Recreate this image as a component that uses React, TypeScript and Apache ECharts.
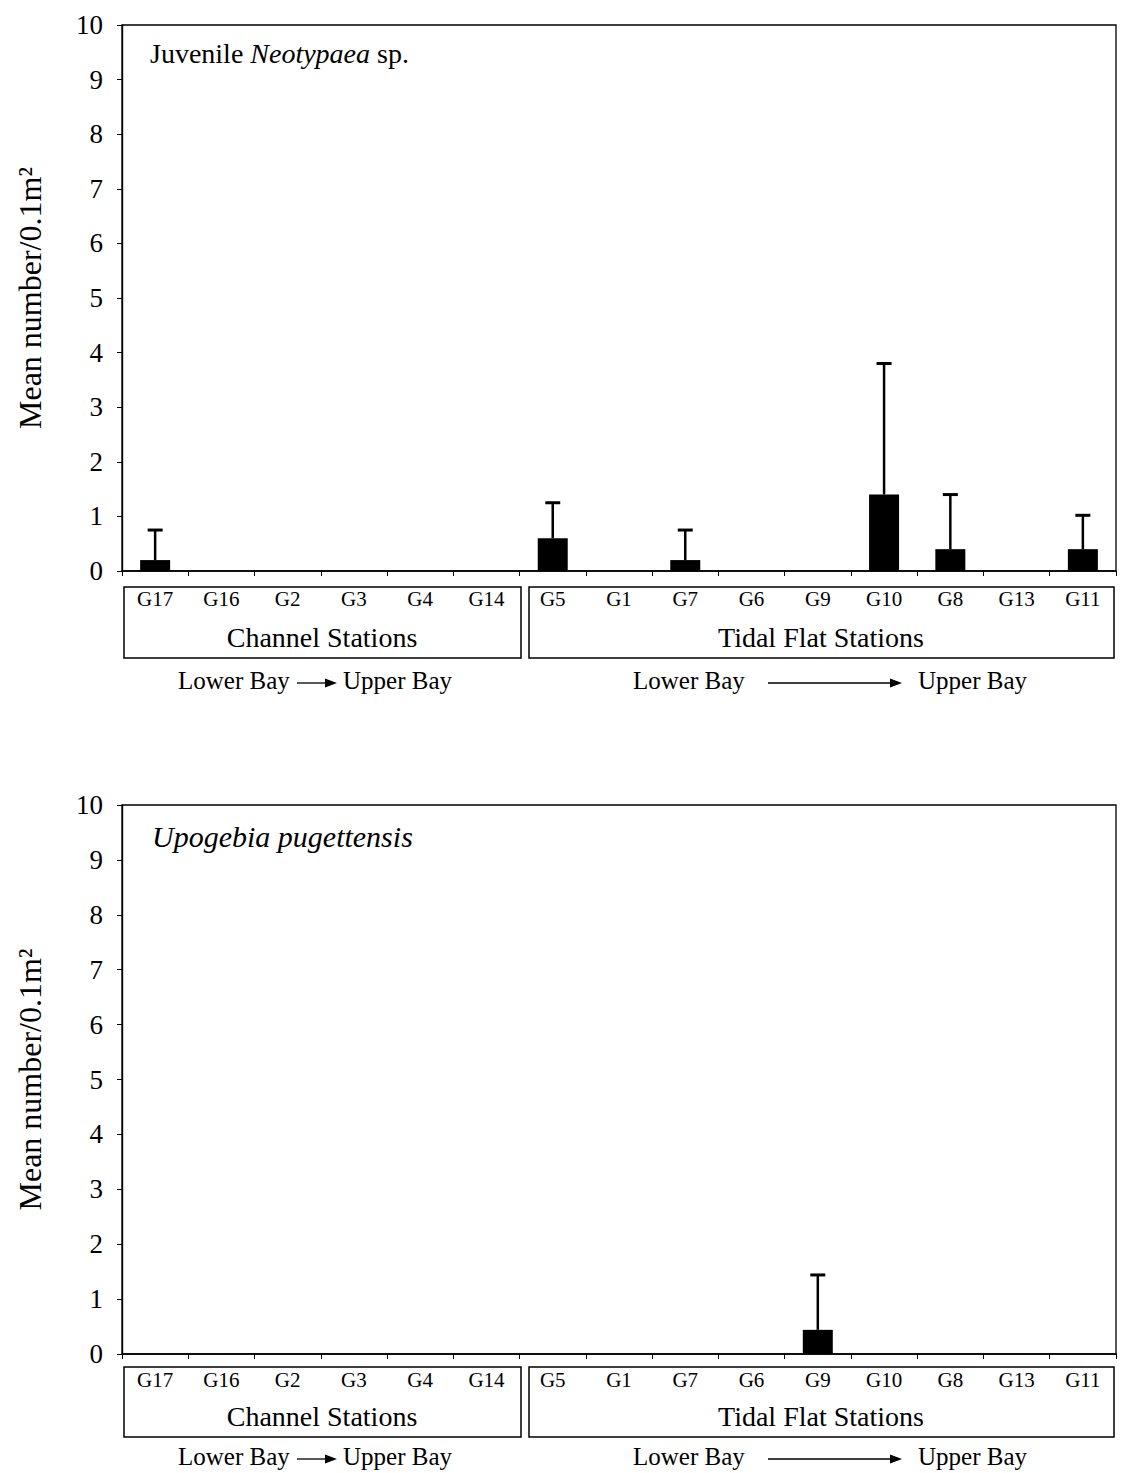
import React, { useEffect, useRef } from "react";
import * as echarts from "echarts";

const categories = ["G17", "G16", "G2", "G3", "G4", "G14", "G5", "G1", "G7", "G6", "G9", "G10", "G8", "G13", "G11"];
const neotypaeaMean = [0.2, 0, 0, 0, 0, 0, 0.6, 0, 0.2, 0, 0, 1.4, 0.4, 0, 0.4];
const neotypaeaSD = [0.55, 0, 0, 0, 0, 0, 0.65, 0, 0.55, 0, 0, 2.4, 1.0, 0, 0.62];
const upogebiaMean = [0, 0, 0, 0, 0, 0, 0, 0, 0, 0, 0.44, 0, 0, 0, 0];
const upogebiaSD = [0, 0, 0, 0, 0, 0, 0, 0, 0, 0, 1.0, 0, 0, 0, 0];
const yMin = 0;
const yMax = 10;
const yInterval = 1;
const yTitle = "Mean number/0.1m\u00B2";
const groupLabels = ["Channel Stations", "Tidal Flat Stations"];
const dirLower = "Lower Bay";
const dirUpper = "Upper Bay";

const FONT = "'Liberation Serif', 'Times New Roman', serif";

export default function App() {
  const ref = useRef<HTMLDivElement>(null);
  useEffect(() => {
    document.body.style.margin = "0";
    if (!ref.current) return;
    const chart = echarts.init(ref.current, null, { renderer: "svg" });

    const panels = [
      { top: 25, bottom: 571, mean: neotypaeaMean, sd: neotypaeaSD },
      { top: 805, bottom: 1354, mean: upogebiaMean, sd: upogebiaSD },
    ];
    const gridLeft = 122;
    const gridRight = 1116;

    const grids = panels.map((p) => ({
      left: gridLeft,
      width: gridRight - gridLeft,
      top: p.top,
      height: p.bottom - p.top,
      show: true,
      borderColor: "#000",
      borderWidth: 1.3,
      backgroundColor: "transparent",
    }));

    const xAxes = panels.map((_, i) => ({
      type: "category",
      gridIndex: i,
      data: categories,
      axisLine: { lineStyle: { color: "#000", width: 1.6 } },
      axisTick: { show: true, length: 5, lineStyle: { color: "#000", width: 1 } },
      axisLabel: { interval: 0, margin: i === 0 ? 17 : 15, color: "#000", fontFamily: FONT, fontSize: 21 },
    }));

    const yAxes = panels.map((_, i) => ({
      type: "value",
      gridIndex: i,
      min: yMin,
      max: yMax,
      interval: yInterval,
      name: yTitle,
      nameLocation: "middle",
      nameRotate: 90,
      nameGap: 76,
      nameTextStyle: { color: "#000", fontFamily: FONT, fontSize: 32 },
      axisLine: { show: true, lineStyle: { color: "#000", width: 1.4 } },
      axisTick: { show: true, length: 5, lineStyle: { color: "#000", width: 1 } },
      axisLabel: { margin: 19, color: "#000", fontFamily: FONT, fontSize: 27 },
      splitLine: { show: false },
    }));

    const series: any[] = [];
    panels.forEach((p, i) => {
      series.push({
        type: "bar",
        xAxisIndex: i,
        yAxisIndex: i,
        data: p.mean,
        barWidth: 30,
        itemStyle: { color: "#000" },
        z: 3,
      });
      series.push({
        type: "custom",
        xAxisIndex: i,
        yAxisIndex: i,
        data: p.mean.map((m, k) => [k, m, m + p.sd[k]]),
        z: 4,
        renderItem: (params: any, api: any) => {
          const idx = api.value(0);
          const lo = api.value(1);
          const hi = api.value(2);
          if (hi <= lo) return null;
          const a = api.coord([idx, lo]);
          const b = api.coord([idx, hi]);
          const half = 7.5;
          return {
            type: "group",
            children: [
              { type: "line", shape: { x1: a[0], y1: a[1], x2: b[0], y2: b[1] }, style: { stroke: "#000", lineWidth: 2.5 } },
              { type: "line", shape: { x1: b[0] - half, y1: b[1], x2: b[0] + half, y2: b[1] }, style: { stroke: "#000", lineWidth: 3 } },
            ],
          };
        },
      });
    });

    const graphic: any[] = [];
    const layouts = [
      { boxTop: 587, boxBottom: 658, groupY: 637, dirY: 680 },
      { boxTop: 1367, boxBottom: 1437, groupY: 1416, dirY: 1456 },
    ];
    const txt = (x: number, y: number, text: string, size: number, align = "center") => ({
      type: "text",
      x,
      y,
      style: { text, fontFamily: FONT, fontSize: size, fill: "#000", align, verticalAlign: "middle", textAlign: align, textVerticalAlign: "middle" },
    });
    const arrow = (x1: number, x2: number, y: number) => [
      { type: "line", shape: { x1, y1: y, x2: x2 - 10, y2: y }, style: { stroke: "#000", lineWidth: 1.3 } },
      { type: "polygon", shape: { points: [[x2 - 12, y - 4.5], [x2, y], [x2 - 12, y + 4.5]] }, style: { fill: "#000" } },
    ];
    layouts.forEach((L) => {
      graphic.push({ type: "rect", shape: { x: 124, y: L.boxTop, width: 521 - 124, height: L.boxBottom - L.boxTop }, style: { fill: "none", stroke: "#000", lineWidth: 1.5 } });
      graphic.push({ type: "rect", shape: { x: 529, y: L.boxTop, width: 1114 - 529, height: L.boxBottom - L.boxTop }, style: { fill: "none", stroke: "#000", lineWidth: 1.5 } });
      graphic.push(txt(322, L.groupY, groupLabels[0], 28));
      graphic.push(txt(821, L.groupY, groupLabels[1], 28));
      graphic.push(txt(178, L.dirY, dirLower, 25, "left"));
      graphic.push(...arrow(297, 337, L.dirY + 3));
      graphic.push(txt(343, L.dirY, dirUpper, 25, "left"));
      graphic.push(txt(633, L.dirY, dirLower, 25, "left"));
      graphic.push(...arrow(768, 902, L.dirY + 3));
      graphic.push(txt(918, L.dirY, dirUpper, 25, "left"));
    });

    chart.setOption({
      animation: false,
      backgroundColor: "#fff",
      title: [
        {
          text: "{n|Juvenile }{i|Neotypaea}{n| sp.}",
          left: 145,
          top: 34,
          textStyle: {
            fontWeight: "normal",
            rich: {
              n: { fontFamily: FONT, fontSize: 28, fontWeight: "normal", color: "#000" },
              i: { fontFamily: FONT, fontSize: 28, fontWeight: "normal", fontStyle: "italic", color: "#000" },
            },
          },
        },
        {
          text: "Upogebia pugettensis",
          left: 147,
          top: 816,
          textStyle: { fontFamily: FONT, fontSize: 30, fontStyle: "italic", fontWeight: "normal", color: "#000" },
        },
      ],
      grid: grids,
      xAxis: xAxes,
      yAxis: yAxes,
      series,
      graphic,
    });
    return () => chart.dispose();
  }, []);
  return <div ref={ref} style={{ width: 1122, height: 1473 }} />;
}
